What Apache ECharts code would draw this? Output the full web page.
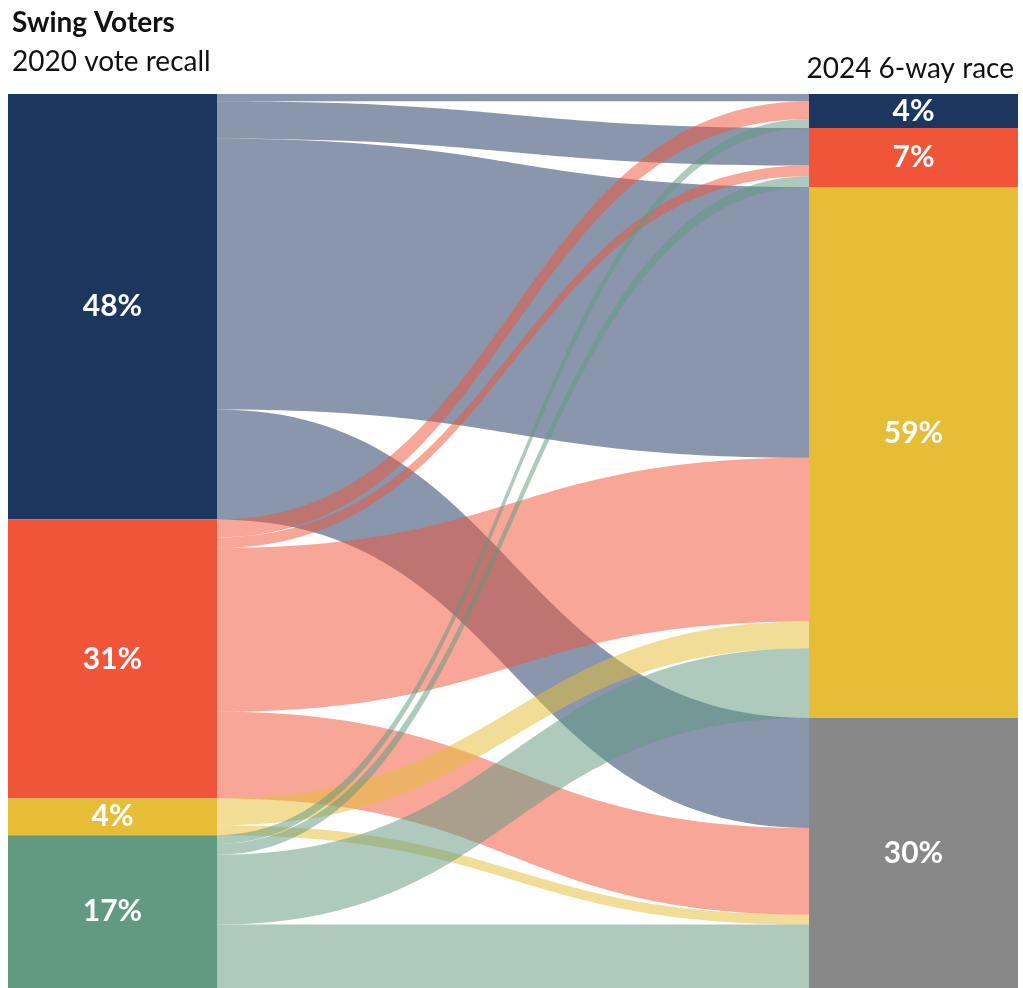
<!DOCTYPE html>
<html>
<head>
<meta charset="utf-8">
<script src="https://cdn.jsdelivr.net/npm/echarts@6/dist/echarts.min.js"></script>
<style>
  html, body { margin: 0; padding: 0; background: #ffffff; }
  #chart { width: 1023px; height: 988px; }
</style>
</head>
<body>
<div id="chart"></div>
<script>
// Groups on each side of the flow (names are internal ids, labels show shares)
const recall2020 = ['2020 Dem', '2020 Rep', '2020 Other', '2020 Nonvoter'];
const race2024 = ['2024 Dem', '2024 Rep', '2024 Undecided', '2024 Other'];

// Share of swing voters (%) moving from each 2020 group to each 2024 choice,
// columns in race2024 order
const fromDem = [0.8, 4.2, 30.3, 12.3];
const fromRep = [2.0, 1.2, 18.3, 9.7];
const fromOther = [0, 0, 3.0, 1.1];
const fromNonvoter = [1.0, 1.2, 7.8, 7.1];

const recallColors = ['#1c365f', '#f0553a', '#e6bd37', '#619a80'];
const raceColors = ['#1c365f', '#f0553a', '#e6bd37', '#888888'];

const flowRows = [fromDem, fromRep, fromOther, fromNonvoter];

const sum = arr => arr.reduce((a, b) => a + b, 0);
const leftTotals = flowRows.map(sum);
const rightTotals = race2024.map((_, j) => sum(flowRows.map(r => r[j])));

const nodes = [];
recall2020.forEach((name, i) => nodes.push({
  name, value: leftTotals[i], depth: 0,
  itemStyle: { color: recallColors[i] }
}));
race2024.forEach((name, j) => {
  const node = {
    name, value: rightTotals[j], depth: 1,
    itemStyle: { color: raceColors[j] }
  };
  // the large undecided block carries its label a little above centre
  if (j === 2) node.label = { offset: [0, -19] };
  nodes.push(node);
});

const links = [];
flowRows.forEach((row, i) => {
  row.forEach((v, j) => {
    if (v > 0) links.push({ source: recall2020[i], target: race2024[j], value: v });
  });
});

const FONT = 'Lato, "Open Sans", sans-serif';

const chart = echarts.init(document.getElementById('chart'), null, { renderer: 'canvas' });
chart.setOption({
  animation: false,
  backgroundColor: '#ffffff',
  title: [
    { text: 'Swing Voters', left: 7, top: 4,
      textStyle: { fontFamily: FONT, fontSize: 28, fontWeight: 'bold', color: '#111111' } },
    { text: '2020 vote recall', left: 7, top: 43,
      textStyle: { fontFamily: FONT, fontSize: 28, fontWeight: 'normal', color: '#111111' } },
    { text: '2024 6-way race', right: 4, top: 50,
      textStyle: { fontFamily: FONT, fontSize: 28, fontWeight: 'normal', color: '#111111' } }
  ],
  series: [{
    type: 'sankey',
    left: 8,
    right: 5,
    top: 94,
    bottom: 0,
    nodeWidth: 209,
    nodeGap: 0,
    layoutIterations: 0,
    draggable: false,
    emphasis: { disabled: true },
    data: nodes,
    links: links,
    itemStyle: { borderWidth: 0 },
    lineStyle: { color: 'source', opacity: 0.52, curveness: 0.5 },
    label: {
      position: 'inside',
      color: '#ffffff',
      fontFamily: FONT,
      fontSize: 30,
      fontWeight: 'bold',
      formatter: p => Math.round(p.value) + '%'
    }
  }]
});
</script>
</body>
</html>
